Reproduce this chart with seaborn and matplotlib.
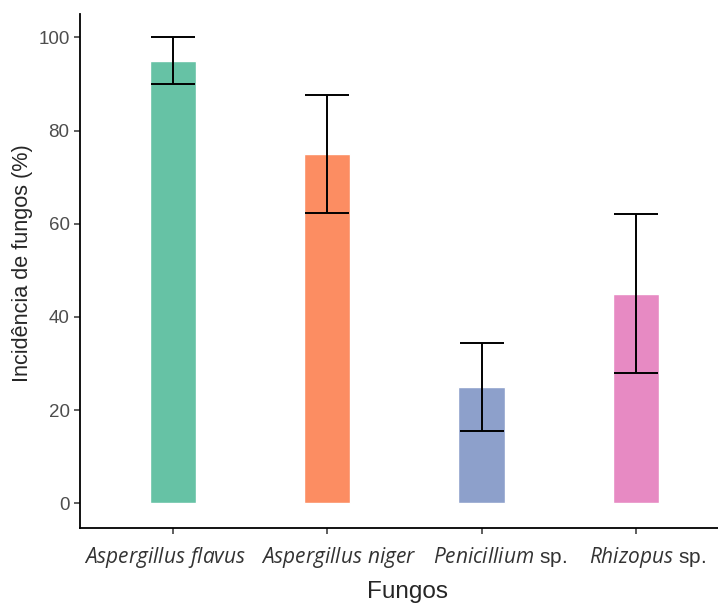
import pandas as pd
import matplotlib
matplotlib.use("Agg")
import matplotlib.pyplot as plt
import matplotlib.transforms as mtransforms
import seaborn as sns

# Incidence of fungi (%) per genus, with error bar half-widths
fungos = ["Aspergillus flavus", "Aspergillus niger", "Penicillium sp.", "Rhizopus sp."]
incidencia = [95, 75, 25, 45]
erro = [5, 12.6, 9.5, 17.1]
rotulos = [r"$\mathit{Aspergillus\ flavus}$", r"$\mathit{Aspergillus\ niger}$",
           r"$\mathit{Penicillium}$ sp.", r"$\mathit{Rhizopus}$ sp."]
cores = ["#66C2A5", "#FC8D62", "#8DA0CB", "#E78AC3"]

df = pd.DataFrame({"fungo": fungos, "inc": incidencia, "se": erro})

sns.set_style("ticks")
plt.rcParams["font.family"] = ["Liberation Sans", "DejaVu Sans"]
plt.rcParams["mathtext.fontset"] = "custom"
plt.rcParams["mathtext.it"] = "Open Sans:italic"
plt.rcParams["mathtext.rm"] = "Open Sans"

fig = plt.figure(figsize=(7.18, 6.07), dpi=100)
ax = fig.add_axes([80 / 718, 79 / 607, 1 - 80 / 718, 514 / 607])

sns.barplot(data=df, x="fungo", y="inc", hue="fungo", palette=cores,
            width=0.3, errorbar=None, legend=False, ax=ax, saturation=1)
ax.errorbar(range(len(fungos)), df["inc"], yerr=df["se"], fmt="none",
            ecolor="black", elinewidth=1.4, capsize=15.5, capthick=1.4)

ax.set_xlim(-0.6, 3.53)
ax.set_ylim(-5.3, 105)
ax.set_yticks([0, 20, 40, 60, 80, 100])
ax.set_xticks(range(len(fungos)))
ax.set_xticklabels(rotulos, fontsize=15, color="#333333")
ax.tick_params(axis="y", labelsize=13.5, labelcolor="#4D4D4D", color="#333333",
               length=4.5, width=1.1, pad=3)
ax.tick_params(axis="x", color="#333333", length=4.5, width=1.1, pad=8)

# labels in the original sit slightly off their ticks
deslocamento = [-7.5, 12, 18, 11]
for lab, dx in zip(ax.get_xticklabels(), deslocamento):
    lab.set_transform(lab.get_transform() +
                      mtransforms.ScaledTranslation(dx / 100, 0, fig.dpi_scale_trans))

for s in ["left", "bottom"]:
    ax.spines[s].set_linewidth(1.3)
    ax.spines[s].set_color("black")
sns.despine(ax=ax)

ax.set_xlabel("Fungos", fontsize=17.5, labelpad=8)
ax.xaxis.label.set_x(0.514)
ax.set_ylabel("Incidência de fungos (%)", fontsize=15.6, labelpad=4)
ax.yaxis.label.set_y(0.515)

fig.savefig("out.png", dpi=100)
